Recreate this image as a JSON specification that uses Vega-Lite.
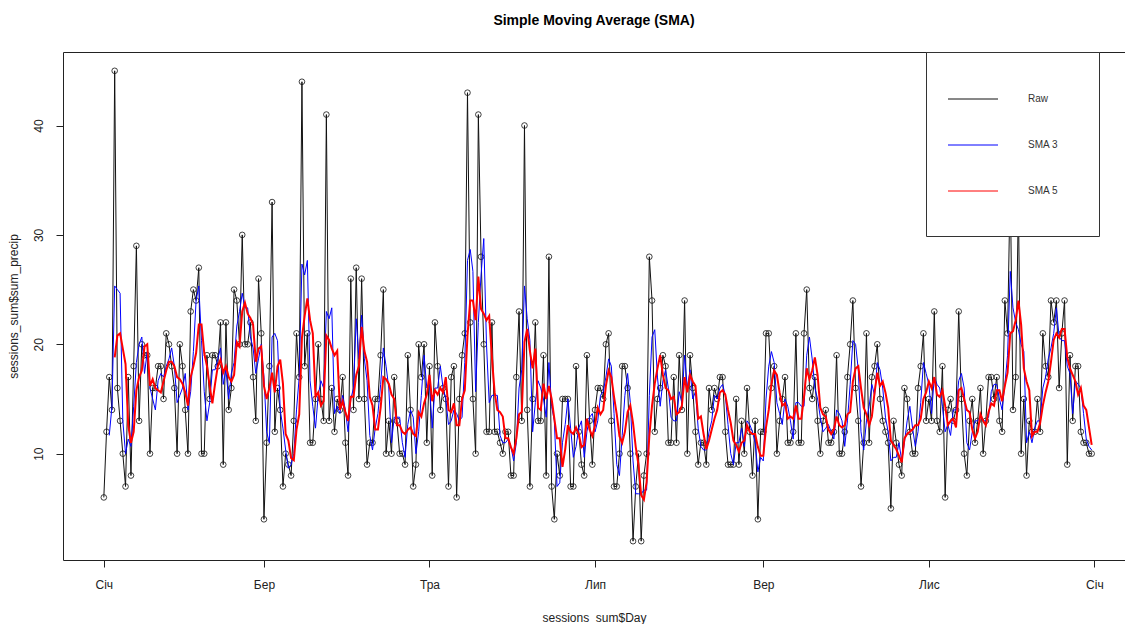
{
"$schema": "https://vega.github.io/schema/vega-lite/v6.json",
"width": 1062, "height": 508,
"autosize": {"type": "none"},
"padding": {"left": 63, "top": 52, "right": 0, "bottom": 64},
"background": "white",
"config": {"font": "Liberation Sans", "view": {"stroke": "#222", "strokeWidth": 1}},
"title": {"text": "Simple Moving Average (SMA)", "fontSize": 14, "fontWeight": "bold", "anchor": "middle", "offset": 24, "color": "black"},
"datasets": {"s": [
{"Day":"2019-01-01","sum_precip":6},{"Day":"2019-01-02","sum_precip":12},{"Day":"2019-01-03","sum_precip":17},{"Day":"2019-01-04","sum_precip":14},{"Day":"2019-01-05","sum_precip":45},{"Day":"2019-01-06","sum_precip":16},{"Day":"2019-01-07","sum_precip":13},{"Day":"2019-01-08","sum_precip":10},{"Day":"2019-01-09","sum_precip":7},{"Day":"2019-01-10","sum_precip":17},{"Day":"2019-01-11","sum_precip":8},{"Day":"2019-01-12","sum_precip":18},{"Day":"2019-01-13","sum_precip":29},{"Day":"2019-01-14","sum_precip":13},{"Day":"2019-01-15","sum_precip":20},{"Day":"2019-01-16","sum_precip":19},{"Day":"2019-01-17","sum_precip":19},{"Day":"2019-01-18","sum_precip":10},{"Day":"2019-01-19","sum_precip":16},{"Day":"2019-01-20","sum_precip":16},{"Day":"2019-01-21","sum_precip":18},{"Day":"2019-01-22","sum_precip":18},{"Day":"2019-01-23","sum_precip":15},{"Day":"2019-01-24","sum_precip":21},{"Day":"2019-01-25","sum_precip":20},{"Day":"2019-01-26","sum_precip":18},{"Day":"2019-01-27","sum_precip":16},{"Day":"2019-01-28","sum_precip":10},{"Day":"2019-01-29","sum_precip":20},{"Day":"2019-01-30","sum_precip":18},{"Day":"2019-01-31","sum_precip":14},
{"Day":"2019-02-01","sum_precip":10},{"Day":"2019-02-02","sum_precip":23},{"Day":"2019-02-03","sum_precip":25},{"Day":"2019-02-04","sum_precip":24},{"Day":"2019-02-05","sum_precip":27},{"Day":"2019-02-06","sum_precip":10},{"Day":"2019-02-07","sum_precip":10},{"Day":"2019-02-08","sum_precip":19},{"Day":"2019-02-09","sum_precip":15},{"Day":"2019-02-10","sum_precip":19},{"Day":"2019-02-11","sum_precip":19},{"Day":"2019-02-12","sum_precip":18},{"Day":"2019-02-13","sum_precip":22},{"Day":"2019-02-14","sum_precip":9},{"Day":"2019-02-15","sum_precip":22},{"Day":"2019-02-16","sum_precip":14},{"Day":"2019-02-17","sum_precip":16},{"Day":"2019-02-18","sum_precip":25},{"Day":"2019-02-19","sum_precip":24},{"Day":"2019-02-20","sum_precip":20},{"Day":"2019-02-21","sum_precip":30},{"Day":"2019-02-22","sum_precip":20},{"Day":"2019-02-23","sum_precip":20},{"Day":"2019-02-24","sum_precip":22},{"Day":"2019-02-25","sum_precip":17},{"Day":"2019-02-26","sum_precip":13},{"Day":"2019-02-27","sum_precip":26},{"Day":"2019-02-28","sum_precip":21},
{"Day":"2019-03-01","sum_precip":4},{"Day":"2019-03-02","sum_precip":11},{"Day":"2019-03-03","sum_precip":18},{"Day":"2019-03-04","sum_precip":33},{"Day":"2019-03-05","sum_precip":12},{"Day":"2019-03-06","sum_precip":16},{"Day":"2019-03-07","sum_precip":14},{"Day":"2019-03-08","sum_precip":7},{"Day":"2019-03-09","sum_precip":10},{"Day":"2019-03-10","sum_precip":9},{"Day":"2019-03-11","sum_precip":8},{"Day":"2019-03-12","sum_precip":13},{"Day":"2019-03-13","sum_precip":21},{"Day":"2019-03-14","sum_precip":17},{"Day":"2019-03-15","sum_precip":44},{"Day":"2019-03-16","sum_precip":18},{"Day":"2019-03-17","sum_precip":21},{"Day":"2019-03-18","sum_precip":11},{"Day":"2019-03-19","sum_precip":11},{"Day":"2019-03-20","sum_precip":15},{"Day":"2019-03-21","sum_precip":20},{"Day":"2019-03-22","sum_precip":15},{"Day":"2019-03-23","sum_precip":13},{"Day":"2019-03-24","sum_precip":41},{"Day":"2019-03-25","sum_precip":13},{"Day":"2019-03-26","sum_precip":16},{"Day":"2019-03-27","sum_precip":12},{"Day":"2019-03-28","sum_precip":15},{"Day":"2019-03-29","sum_precip":14},{"Day":"2019-03-30","sum_precip":17},{"Day":"2019-03-31","sum_precip":11},
{"Day":"2019-04-01","sum_precip":8},{"Day":"2019-04-02","sum_precip":26},{"Day":"2019-04-03","sum_precip":14},{"Day":"2019-04-04","sum_precip":27},{"Day":"2019-04-05","sum_precip":15},{"Day":"2019-04-06","sum_precip":26},{"Day":"2019-04-07","sum_precip":15},{"Day":"2019-04-08","sum_precip":9},{"Day":"2019-04-09","sum_precip":11},{"Day":"2019-04-10","sum_precip":11},{"Day":"2019-04-11","sum_precip":15},{"Day":"2019-04-12","sum_precip":15},{"Day":"2019-04-13","sum_precip":19},{"Day":"2019-04-14","sum_precip":25},{"Day":"2019-04-15","sum_precip":10},{"Day":"2019-04-16","sum_precip":13},{"Day":"2019-04-17","sum_precip":10},{"Day":"2019-04-18","sum_precip":17},{"Day":"2019-04-19","sum_precip":13},{"Day":"2019-04-20","sum_precip":10},{"Day":"2019-04-21","sum_precip":10},{"Day":"2019-04-22","sum_precip":9},{"Day":"2019-04-23","sum_precip":19},{"Day":"2019-04-24","sum_precip":14},{"Day":"2019-04-25","sum_precip":7},{"Day":"2019-04-26","sum_precip":9},{"Day":"2019-04-27","sum_precip":20},{"Day":"2019-04-28","sum_precip":17},{"Day":"2019-04-29","sum_precip":20},{"Day":"2019-04-30","sum_precip":11},
{"Day":"2019-05-01","sum_precip":18},{"Day":"2019-05-02","sum_precip":8},{"Day":"2019-05-03","sum_precip":22},{"Day":"2019-05-04","sum_precip":18},{"Day":"2019-05-05","sum_precip":14},{"Day":"2019-05-06","sum_precip":16},{"Day":"2019-05-07","sum_precip":15},{"Day":"2019-05-08","sum_precip":7},{"Day":"2019-05-09","sum_precip":17},{"Day":"2019-05-10","sum_precip":18},{"Day":"2019-05-11","sum_precip":6},{"Day":"2019-05-12","sum_precip":15},{"Day":"2019-05-13","sum_precip":19},{"Day":"2019-05-14","sum_precip":21},{"Day":"2019-05-15","sum_precip":43},{"Day":"2019-05-16","sum_precip":22},{"Day":"2019-05-17","sum_precip":15},{"Day":"2019-05-18","sum_precip":10},{"Day":"2019-05-19","sum_precip":41},{"Day":"2019-05-20","sum_precip":28},{"Day":"2019-05-21","sum_precip":20},{"Day":"2019-05-22","sum_precip":12},{"Day":"2019-05-23","sum_precip":12},{"Day":"2019-05-24","sum_precip":22},{"Day":"2019-05-25","sum_precip":12},{"Day":"2019-05-26","sum_precip":12},{"Day":"2019-05-27","sum_precip":11},{"Day":"2019-05-28","sum_precip":10},{"Day":"2019-05-29","sum_precip":12},{"Day":"2019-05-30","sum_precip":12},{"Day":"2019-05-31","sum_precip":8},
{"Day":"2019-06-01","sum_precip":8},{"Day":"2019-06-02","sum_precip":17},{"Day":"2019-06-03","sum_precip":23},{"Day":"2019-06-04","sum_precip":13},{"Day":"2019-06-05","sum_precip":40},{"Day":"2019-06-06","sum_precip":14},{"Day":"2019-06-07","sum_precip":7},{"Day":"2019-06-08","sum_precip":15},{"Day":"2019-06-09","sum_precip":22},{"Day":"2019-06-10","sum_precip":13},{"Day":"2019-06-11","sum_precip":13},{"Day":"2019-06-12","sum_precip":19},{"Day":"2019-06-13","sum_precip":8},{"Day":"2019-06-14","sum_precip":28},{"Day":"2019-06-15","sum_precip":7},{"Day":"2019-06-16","sum_precip":4},{"Day":"2019-06-17","sum_precip":10},{"Day":"2019-06-18","sum_precip":8},{"Day":"2019-06-19","sum_precip":15},{"Day":"2019-06-20","sum_precip":15},{"Day":"2019-06-21","sum_precip":15},{"Day":"2019-06-22","sum_precip":7},{"Day":"2019-06-23","sum_precip":7},{"Day":"2019-06-24","sum_precip":18},{"Day":"2019-06-25","sum_precip":12},{"Day":"2019-06-26","sum_precip":9},{"Day":"2019-06-27","sum_precip":8},{"Day":"2019-06-28","sum_precip":19},{"Day":"2019-06-29","sum_precip":13},{"Day":"2019-06-30","sum_precip":9},
{"Day":"2019-07-01","sum_precip":14},{"Day":"2019-07-02","sum_precip":16},{"Day":"2019-07-03","sum_precip":16},{"Day":"2019-07-04","sum_precip":15},{"Day":"2019-07-05","sum_precip":20},{"Day":"2019-07-06","sum_precip":21},{"Day":"2019-07-07","sum_precip":13},{"Day":"2019-07-08","sum_precip":7},{"Day":"2019-07-09","sum_precip":7},{"Day":"2019-07-10","sum_precip":10},{"Day":"2019-07-11","sum_precip":18},{"Day":"2019-07-12","sum_precip":18},{"Day":"2019-07-13","sum_precip":16},{"Day":"2019-07-14","sum_precip":10},{"Day":"2019-07-15","sum_precip":2},{"Day":"2019-07-16","sum_precip":7},{"Day":"2019-07-17","sum_precip":10},{"Day":"2019-07-18","sum_precip":2},{"Day":"2019-07-19","sum_precip":8},{"Day":"2019-07-20","sum_precip":10},{"Day":"2019-07-21","sum_precip":28},{"Day":"2019-07-22","sum_precip":24},{"Day":"2019-07-23","sum_precip":12},{"Day":"2019-07-24","sum_precip":15},{"Day":"2019-07-25","sum_precip":16},{"Day":"2019-07-26","sum_precip":19},{"Day":"2019-07-27","sum_precip":18},{"Day":"2019-07-28","sum_precip":11},{"Day":"2019-07-29","sum_precip":11},{"Day":"2019-07-30","sum_precip":17},{"Day":"2019-07-31","sum_precip":11},
{"Day":"2019-08-01","sum_precip":19},{"Day":"2019-08-02","sum_precip":14},{"Day":"2019-08-03","sum_precip":24},{"Day":"2019-08-04","sum_precip":10},{"Day":"2019-08-05","sum_precip":19},{"Day":"2019-08-06","sum_precip":16},{"Day":"2019-08-07","sum_precip":12},{"Day":"2019-08-08","sum_precip":9},{"Day":"2019-08-09","sum_precip":11},{"Day":"2019-08-10","sum_precip":11},{"Day":"2019-08-11","sum_precip":9},{"Day":"2019-08-12","sum_precip":16},{"Day":"2019-08-13","sum_precip":14},{"Day":"2019-08-14","sum_precip":16},{"Day":"2019-08-15","sum_precip":15},{"Day":"2019-08-16","sum_precip":17},{"Day":"2019-08-17","sum_precip":17},{"Day":"2019-08-18","sum_precip":12},{"Day":"2019-08-19","sum_precip":9},{"Day":"2019-08-20","sum_precip":9},{"Day":"2019-08-21","sum_precip":9},{"Day":"2019-08-22","sum_precip":15},{"Day":"2019-08-23","sum_precip":9},{"Day":"2019-08-24","sum_precip":13},{"Day":"2019-08-25","sum_precip":10},{"Day":"2019-08-26","sum_precip":16},{"Day":"2019-08-27","sum_precip":12},{"Day":"2019-08-28","sum_precip":8},{"Day":"2019-08-29","sum_precip":13},{"Day":"2019-08-30","sum_precip":4},{"Day":"2019-08-31","sum_precip":12},
{"Day":"2019-09-01","sum_precip":12},{"Day":"2019-09-02","sum_precip":21},{"Day":"2019-09-03","sum_precip":21},{"Day":"2019-09-04","sum_precip":16},{"Day":"2019-09-05","sum_precip":18},{"Day":"2019-09-06","sum_precip":10},{"Day":"2019-09-07","sum_precip":13},{"Day":"2019-09-08","sum_precip":15},{"Day":"2019-09-09","sum_precip":17},{"Day":"2019-09-10","sum_precip":11},{"Day":"2019-09-11","sum_precip":11},{"Day":"2019-09-12","sum_precip":12},{"Day":"2019-09-13","sum_precip":21},{"Day":"2019-09-14","sum_precip":11},{"Day":"2019-09-15","sum_precip":11},{"Day":"2019-09-16","sum_precip":21},{"Day":"2019-09-17","sum_precip":25},{"Day":"2019-09-18","sum_precip":16},{"Day":"2019-09-19","sum_precip":15},{"Day":"2019-09-20","sum_precip":17},{"Day":"2019-09-21","sum_precip":13},{"Day":"2019-09-22","sum_precip":10},{"Day":"2019-09-23","sum_precip":13},{"Day":"2019-09-24","sum_precip":14},{"Day":"2019-09-25","sum_precip":11},{"Day":"2019-09-26","sum_precip":11},{"Day":"2019-09-27","sum_precip":12},{"Day":"2019-09-28","sum_precip":19},{"Day":"2019-09-29","sum_precip":10},{"Day":"2019-09-30","sum_precip":10},
{"Day":"2019-10-01","sum_precip":12},{"Day":"2019-10-02","sum_precip":17},{"Day":"2019-10-03","sum_precip":20},{"Day":"2019-10-04","sum_precip":24},{"Day":"2019-10-05","sum_precip":16},{"Day":"2019-10-06","sum_precip":13},{"Day":"2019-10-07","sum_precip":7},{"Day":"2019-10-08","sum_precip":11},{"Day":"2019-10-09","sum_precip":21},{"Day":"2019-10-10","sum_precip":11},{"Day":"2019-10-11","sum_precip":17},{"Day":"2019-10-12","sum_precip":18},{"Day":"2019-10-13","sum_precip":20},{"Day":"2019-10-14","sum_precip":15},{"Day":"2019-10-15","sum_precip":13},{"Day":"2019-10-16","sum_precip":12},{"Day":"2019-10-17","sum_precip":11},{"Day":"2019-10-18","sum_precip":5},{"Day":"2019-10-19","sum_precip":13},{"Day":"2019-10-20","sum_precip":11},{"Day":"2019-10-21","sum_precip":9},{"Day":"2019-10-22","sum_precip":8},{"Day":"2019-10-23","sum_precip":16},{"Day":"2019-10-24","sum_precip":15},{"Day":"2019-10-25","sum_precip":12},{"Day":"2019-10-26","sum_precip":10},{"Day":"2019-10-27","sum_precip":10},{"Day":"2019-10-28","sum_precip":16},{"Day":"2019-10-29","sum_precip":18},{"Day":"2019-10-30","sum_precip":21},{"Day":"2019-10-31","sum_precip":13},
{"Day":"2019-11-01","sum_precip":15},{"Day":"2019-11-02","sum_precip":13},{"Day":"2019-11-03","sum_precip":23},{"Day":"2019-11-04","sum_precip":13},{"Day":"2019-11-05","sum_precip":12},{"Day":"2019-11-06","sum_precip":18},{"Day":"2019-11-07","sum_precip":6},{"Day":"2019-11-08","sum_precip":14},{"Day":"2019-11-09","sum_precip":15},{"Day":"2019-11-10","sum_precip":13},{"Day":"2019-11-11","sum_precip":14},{"Day":"2019-11-12","sum_precip":23},{"Day":"2019-11-13","sum_precip":15},{"Day":"2019-11-14","sum_precip":10},{"Day":"2019-11-15","sum_precip":8},{"Day":"2019-11-16","sum_precip":13},{"Day":"2019-11-17","sum_precip":15},{"Day":"2019-11-18","sum_precip":11},{"Day":"2019-11-19","sum_precip":13},{"Day":"2019-11-20","sum_precip":16},{"Day":"2019-11-21","sum_precip":10},{"Day":"2019-11-22","sum_precip":13},{"Day":"2019-11-23","sum_precip":17},{"Day":"2019-11-24","sum_precip":17},{"Day":"2019-11-25","sum_precip":15},{"Day":"2019-11-26","sum_precip":17},{"Day":"2019-11-27","sum_precip":13},{"Day":"2019-11-28","sum_precip":12},{"Day":"2019-11-29","sum_precip":24},{"Day":"2019-11-30","sum_precip":21},
{"Day":"2019-12-01","sum_precip":35},{"Day":"2019-12-02","sum_precip":14},{"Day":"2019-12-03","sum_precip":17},{"Day":"2019-12-04","sum_precip":33},{"Day":"2019-12-05","sum_precip":10},{"Day":"2019-12-06","sum_precip":15},{"Day":"2019-12-07","sum_precip":8},{"Day":"2019-12-08","sum_precip":13},{"Day":"2019-12-09","sum_precip":12},{"Day":"2019-12-10","sum_precip":12},{"Day":"2019-12-11","sum_precip":15},{"Day":"2019-12-12","sum_precip":12},{"Day":"2019-12-13","sum_precip":21},{"Day":"2019-12-14","sum_precip":18},{"Day":"2019-12-15","sum_precip":17},{"Day":"2019-12-16","sum_precip":24},{"Day":"2019-12-17","sum_precip":22},{"Day":"2019-12-18","sum_precip":24},{"Day":"2019-12-19","sum_precip":16},{"Day":"2019-12-20","sum_precip":21},{"Day":"2019-12-21","sum_precip":24},{"Day":"2019-12-22","sum_precip":9},{"Day":"2019-12-23","sum_precip":19},{"Day":"2019-12-24","sum_precip":13},{"Day":"2019-12-25","sum_precip":18},{"Day":"2019-12-26","sum_precip":18},{"Day":"2019-12-27","sum_precip":12},{"Day":"2019-12-28","sum_precip":11},{"Day":"2019-12-29","sum_precip":11},{"Day":"2019-12-30","sum_precip":10},{"Day":"2019-12-31","sum_precip":10}
]},
"data": {"name": "s"},
"transform": [
  {"window": [{"op": "mean", "field": "sum_precip", "as": "sma3"}, {"op": "count", "field": "sum_precip", "as": "n3"}], "frame": [-2, 0], "sort": [{"field": "Day"}]},
  {"window": [{"op": "mean", "field": "sum_precip", "as": "sma5"}, {"op": "count", "field": "sum_precip", "as": "n5"}], "frame": [-4, 0], "sort": [{"field": "Day"}]}
],
"encoding": {
  "x": {"field": "Day", "type": "temporal",
    "scale": {"type": "utc", "domain": [{"year": 2018, "month": 12, "date": 16, "hours": 23, "utc": true}, {"year": 2020, "month": 1, "date": 12, "hours": 6, "minutes": 30, "utc": true}]},
    "axis": {"values": [{"year": 2019, "month": 1, "date": 1, "utc": true}, {"year": 2019, "month": 3, "date": 1, "utc": true}, {"year": 2019, "month": 5, "date": 1, "utc": true}, {"year": 2019, "month": 7, "date": 1, "utc": true}, {"year": 2019, "month": 9, "date": 1, "utc": true}, {"year": 2019, "month": 11, "date": 1, "utc": true}, {"year": 2020, "month": 1, "date": 1, "utc": true}],
      "labelExpr": "['Січ','Лют','Бер','Кві','Тра','Чер','Лип','Сер','Вер','Жов','Лис','Гру'][utcmonth(datum.value)]",
      "tickSize": 7, "tickColor": "#222", "domain": false, "grid": false, "labelFontSize": 12, "labelColor": "#222", "labelPadding": 12, "labelFlush": false, "labelOverlap": false,
      "title": "sessions_sum$Day", "titleFontSize": 12, "titleFontWeight": "normal", "titleColor": "#222", "titlePadding": 22}
  }
},
"layer": [
  {"mark": {"type": "point", "shape": "circle", "filled": false, "color": "#111111", "size": 32, "strokeWidth": 0.8, "opacity": 1},
   "encoding": {"y": {"field": "sum_precip", "type": "quantitative", "title": "sessions_sum$sum_precip",
       "scale": {"domain": [0.28, 46.72], "nice": false, "zero": false},
       "axis": {"values": [10, 20, 30, 40], "tickSize": 7, "tickColor": "#222", "domain": false, "grid": false, "labelAngle": 270, "labelAlign": "center", "labelBaseline": "bottom", "labelPadding": 11, "labelFontSize": 12, "labelColor": "#222", "titleFontSize": 12, "titleFontWeight": "normal", "titleColor": "#222", "titlePadding": 12}}}},
  {"transform": [
     {"fold": ["sum_precip", "sma3", "sma5"], "as": ["series", "value"]},
     {"filter": "(datum.series != 'sma3' || datum.n3 >= 3) && (datum.series != 'sma5' || datum.n5 >= 5)"}
   ],
   "mark": {"type": "line"},
   "encoding": {
     "y": {"field": "value", "type": "quantitative", "title": "sessions_sum$sum_precip", "scale": {"domain": [0.28, 46.72], "nice": false, "zero": false}},
     "color": {"field": "series", "type": "nominal",
       "scale": {"domain": ["sum_precip", "sma3", "sma5"], "range": ["#111111", "#0000ff", "#ff0000"]},
       "legend": {"orient": "none", "legendX": 863, "legendY": 0, "title": null, "padding": 40, "rowPadding": 34, "symbolType": "M-4,0H4", "symbolSize": 156.25, "symbolStrokeWidth": 1, "symbolFillColor": "transparent",
         "labelExpr": "{'sum_precip': 'Raw', 'sma3': 'SMA 3', 'sma5': 'SMA 5'}[datum.label]",
         "labelOffset": 48, "labelFontSize": 10, "labelColor": "#333", "strokeColor": "#333", "fillColor": "white", "cornerRadius": 0}},
     "strokeWidth": {"condition": {"test": "datum.series == 'sma5'", "value": 2}, "value": 1}
   }}
]
}
